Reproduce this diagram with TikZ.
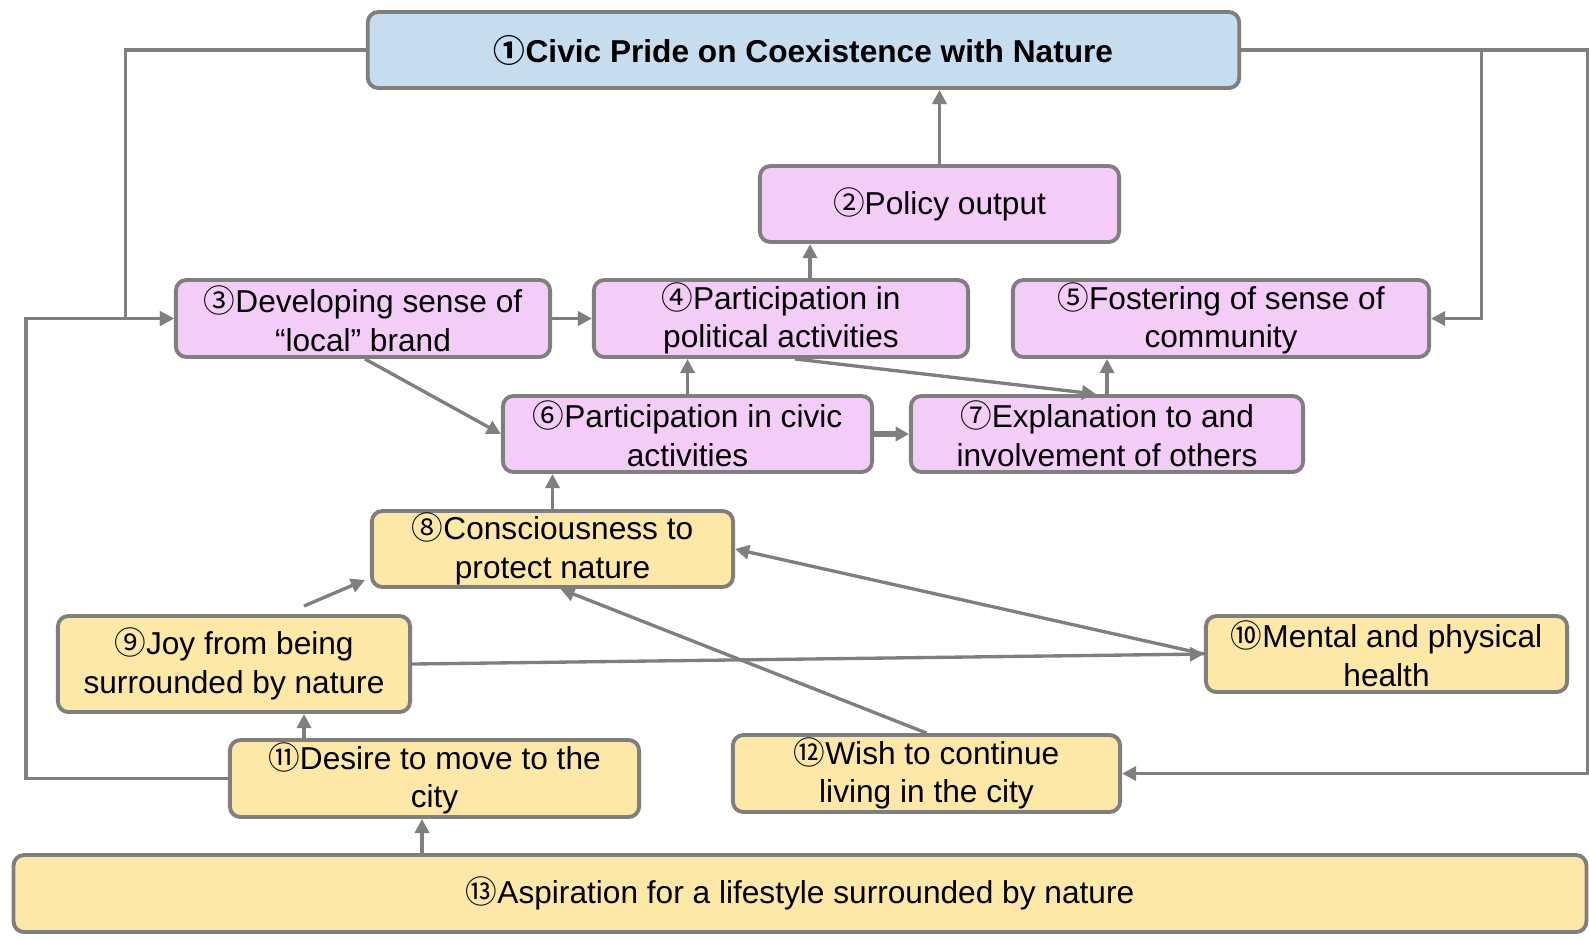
\documentclass[tikz,border=0pt]{standalone}
\usepackage{fontspec}
\setmainfont{Liberation Sans}
\newfontfamily\cjkfont{Noto Sans CJK JP}
\newcommand\cn[1]{{\cjkfont #1}}
\usetikzlibrary{calc,arrows.meta}
\definecolor{bluefill}{HTML}{C6DDF0}
\definecolor{pinkfill}{HTML}{F4CCF8}
\definecolor{yellowfill}{HTML}{FEE8A8}
\definecolor{edgegray}{HTML}{7F7F7F}
\tikzset{
  box/.style={draw=edgegray, line width=1.1pt, rounded corners=3pt, inner sep=0pt, align=center,
    font=\fontsize{9pt}{11pt}\selectfont},
  bluebox/.style={box, fill=bluefill},
  pinkbox/.style={box, fill=pinkfill},
  yellowbox/.style={box, fill=yellowfill},
  arr/.style={draw=edgegray, line width=0.95pt, -{Triangle[length=4pt,width=4pt]}},
  thickarr/.style={draw=edgegray, line width=1.9pt, -{Triangle[length=3.8pt,width=4pt]}},
  plain/.style={draw=edgegray, line width=0.95pt}
}
\begin{document}
\begin{tikzpicture}[x=0.01cm,y=-0.01cm]
\useasboundingbox (0,0) rectangle (1589,938);
% nodes
\node[bluebox, minimum width=8.71cm, minimum height=0.76cm] (n1) at (803.5,50) {\textbf{\cn{①}Civic Pride on Coexistence with Nature}};
\node[pinkbox, minimum width=3.59cm, minimum height=0.76cm] (n2) at (939.5,204) {\cn{②}Policy output};
\node[pinkbox, minimum width=3.74cm, minimum height=0.77cm] (n3) at (363,318.5) {\cn{③}Developing sense of\\“local” brand};
\node[pinkbox, minimum width=3.74cm, minimum height=0.77cm] (n4) at (781,318.5) {\cn{④}Participation in\\political activities};
\node[pinkbox, minimum width=4.16cm, minimum height=0.77cm] (n5) at (1221,318.5) {\cn{⑤}Fostering of sense of\\community};
\node[pinkbox, minimum width=3.69cm, minimum height=0.76cm] (n6) at (687.5,434) {\cn{⑥}Participation in civic\\activities};
\node[pinkbox, minimum width=3.92cm, minimum height=0.76cm] (n7) at (1107,434) {\cn{⑦}Explanation to and\\involvement of others};
\node[yellowbox, minimum width=3.61cm, minimum height=0.76cm] (n8) at (552.5,549) {\cn{⑧}Consciousness to\\protect nature};
\node[yellowbox, minimum width=3.52cm, minimum height=0.96cm] (n9) at (234,664) {\cn{⑨}Joy from being\\surrounded by nature};
\node[yellowbox, minimum width=3.61cm, minimum height=0.76cm] (n10) at (1386.5,654) {\cn{⑩}Mental and physical\\health};
\node[yellowbox, minimum width=4.09cm, minimum height=0.77cm] (n11) at (434.5,778.5) {\cn{⑪}Desire to move to the\\city};
\node[yellowbox, minimum width=3.87cm, minimum height=0.77cm] (n12) at (926.5,773.5) {\cn{⑫}Wish to continue\\living in the city};
\node[yellowbox, minimum width=15.72cm, minimum height=0.77cm] (n13) at (800,893.5) {\cn{⑬}Aspiration for a lifestyle surrounded by nature};
% connectors
\draw[arr] (n1.west) -- ++(-240,0) |- (n3.west);
\draw[arr] (n11.west) -- ++(-202,0) |- (n3.west);
\draw[arr] (n1.east) -- ++(240,0) |- (n5.east);
\draw[arr] (n1.east) -- ++(346,0) |- (n12.east);
\draw[arr] (n2.north) -- (n2.north |- n1.south);
\coordinate (a4) at ($(n4.north)+(29,0)$);
\draw[arr] (a4) -- (a4 |- n2.south);
\draw[arr] (n3.east) -- (n4.west);
\draw[arr] ($(n3.south)+(2,0)$) -- (n6.west);
\draw[arr] (n6.north) -- (n6.north |- n4.south);
\draw[arr] ($(n4.south)+(14,0)$) -- ($(n7.north)+(-11,0)$);
\draw[arr] (n7.north) -- (n7.north |- n5.south);
\draw[thickarr] (n6.east) -- (n7.west);
\draw[arr] (n8.north) -- (n8.north |- n6.south);
\coordinate (s9) at (304,606);
\draw[arr] (s9) -- ($(n8.south west)+(-5,-9)$);
\coordinate (a11) at ($(n11.north)+(-130.5,0)$);
\draw[arr] (a11) -- (a11 |- n9.south);
\coordinate (a13) at ($(n11.south)+(-12.5,0)$);
\draw[arr] (a13 |- n13.north) -- (a13);
\draw[arr] (n9.east) -- (n10.west);
\draw[arr] (n10.west) -- (n8.east);
\draw[arr] (n12.north) -- ($(n8.south)+(8,0)$);
\end{tikzpicture}
\end{document}
